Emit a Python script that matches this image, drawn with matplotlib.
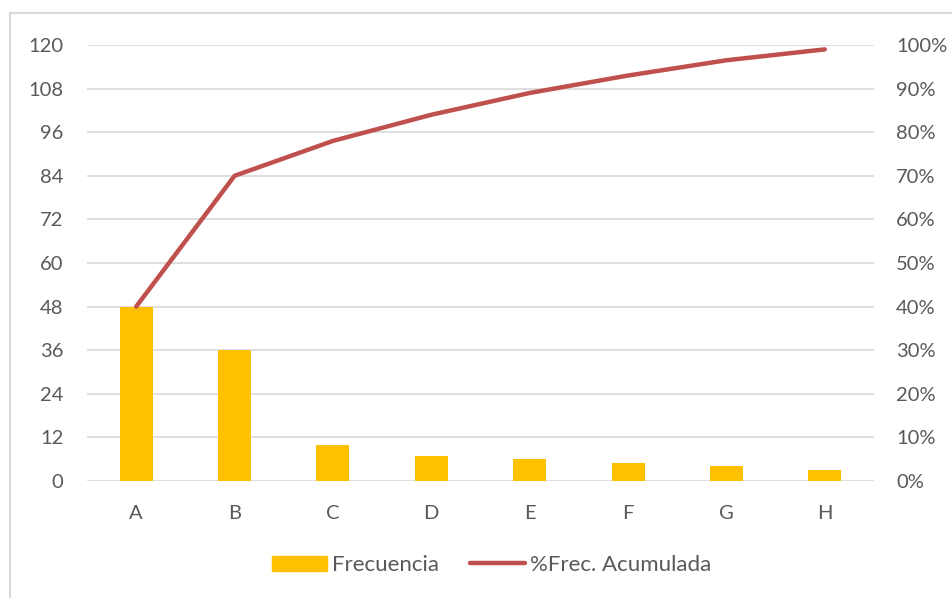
import matplotlib.pyplot as plt
import numpy as np
from matplotlib.lines import Line2D
from matplotlib.patches import Patch
from matplotlib.ticker import FuncFormatter

# data
categorias = ["A", "B", "C", "D", "E", "F", "G", "H"]
frecuencia = [48, 36, 10, 7, 6, 5, 4, 3]
frec_acumulada_pct = [40, 70, 78, 84, 89, 93, 96.5, 99]

bar_color = "#ffc000"
line_color = "#c0504d"
grid_color = "#d9d9d9"
text_color = "#595959"

plt.rcParams["font.family"] = ["Lato", "DejaVu Sans"]
plt.rcParams["font.size"] = 14

fig = plt.figure(figsize=(9.53, 5.98), dpi=100)
ax = fig.add_axes([87 / 953, 1 - 481 / 598, (874 - 87) / 953, (481 - 45) / 598])
ax2 = ax.twinx()

x = np.arange(len(categorias))
ax.bar(x, frecuencia, width=0.335, color=bar_color, zorder=2)
ax2.plot(x, np.array(frec_acumulada_pct) / 100, color=line_color, lw=3.2,
         solid_capstyle="round", zorder=3)

ax.set_xlim(-0.5, len(categorias) - 0.5)
ax.set_ylim(0, 120)
ax.set_yticks(np.arange(0, 121, 12))
ax2.set_ylim(0, 1)
ax2.set_yticks(np.arange(0, 1.01, 0.1))
ax2.yaxis.set_major_formatter(FuncFormatter(lambda v, p: f"{v * 100:.0f}%"))

ax.set_xticks(x)
ax.set_xticklabels(categorias)
ax.yaxis.grid(True, color=grid_color, lw=1.2, zorder=0)
ax.set_axisbelow(True)

for a in (ax, ax2):
    for s in a.spines.values():
        s.set_visible(False)
    a.tick_params(length=0, colors=text_color, labelsize=14.5)
ax.tick_params(axis="y", pad=17)
ax.tick_params(axis="x", pad=17)
ax2.tick_params(axis="y", pad=16)

handles = [Patch(color=bar_color, label="Frecuencia"),
           Line2D([0], [0], color=line_color, lw=3.2, solid_capstyle="round",
                  label="%Frec. Acumulada")]
fig.legend(handles=handles, loc="center", bbox_to_anchor=(492 / 953, 1 - 565 / 598),
           ncol=2, frameon=False, fontsize=16, labelcolor=text_color,
           handlelength=2.45, handletextpad=0.25, columnspacing=1.4,
           handleheight=0.65)

# outer chart border (cut off at right and bottom)
fig.add_artist(Line2D([10 / 953, 1], [1 - 13 / 598, 1 - 13 / 598],
                      color=grid_color, lw=1.5, transform=fig.transFigure))
fig.add_artist(Line2D([10 / 953, 10 / 953], [0, 1 - 13 / 598],
                      color=grid_color, lw=1.5, transform=fig.transFigure))

fig.savefig("out.png", dpi=100)
